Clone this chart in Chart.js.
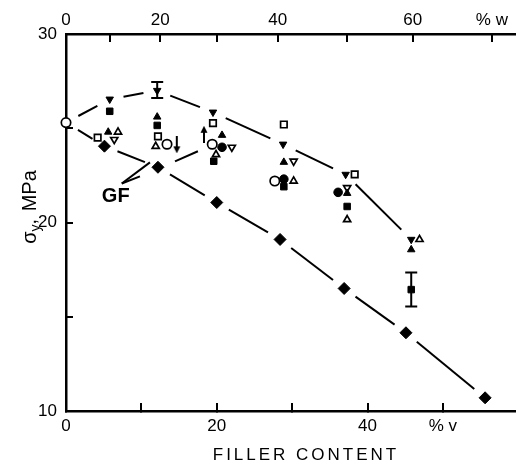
<!DOCTYPE html>
<html>
<head>
<meta charset="utf-8">
<script src="https://cdn.jsdelivr.net/npm/chart.js@4"></script>
<style>
  html, body { margin: 0; padding: 0; background: #fff; }
  #wrap { width: 516px; height: 466px; position: relative; }
</style>
</head>
<body>
<div id="wrap"><canvas id="yieldChart"></canvas></div>
<script>
// bottom axis: filler content, % by volume
const volTicks = [0, 10, 20, 30, 40, 50];
const volLabels = ['0', '', '20', '', '40', '% v'];
// top axis: % by weight, placed at the matching volume fractions
const wtTickPos = [0, 5.8, 12.5, 20.0, 28.1, 37.3, 46.0, 56.5];
const wtLabels = ['0', '', '20', '', '40', '', '60', '% w'];
// yield stress ticks, MPa
const stressTicks = [10, 15, 20, 25, 30];
const stressLabels = ['10', '', '20', '', '30'];

// unfilled matrix
const matrixX = [0];
const matrixY = [25.3];

// filled diamonds (lower dashed curve)
const diamondX = [5.1, 12.2, 20.0, 28.4, 36.9, 45.1, 55.6];
const diamondY = [24.05, 22.93, 21.06, 19.1, 16.5, 14.15, 10.7];

// filled down-triangles (upper dashed curve)
const dnTriX = [5.8, 12.1, 19.5, 28.8, 37.1, 45.8];
const dnTriY = [26.54, 27.0, 25.85, 24.15, 22.55, 19.1];

// filled squares
const sqX = [5.8, 12.1, 19.6, 28.9, 37.3, 45.8];
const sqY = [25.9, 25.15, 23.25, 21.9, 20.85, 16.44];

// filled up-triangles
const upTriX = [5.6, 12.1, 20.7, 28.9, 37.3, 45.8];
const upTriY = [24.8, 25.6, 24.63, 23.2, 21.55, 18.56];

// open up-triangles
const openUpX = [6.9, 11.9, 19.9, 30.2, 37.3, 46.9];
const openUpY = [24.8, 24.04, 23.6, 22.2, 20.15, 19.1];

// open down-triangles
const openDnX = [6.4, 22.0, 30.2, 37.3];
const openDnY = [24.4, 23.99, 23.25, 21.85];

// open squares
const openSqX = [4.2, 12.2, 19.5, 28.9, 38.3];
const openSqY = [24.5, 24.57, 25.27, 25.2, 22.55];

// filled circles
const dotX = [20.7, 28.9, 36.1];
const dotY = [23.99, 22.3, 21.6];

// open circles (GF)
const ringX = [13.4, 19.4, 27.7];
const ringY = [24.15, 24.15, 22.2];

// arrows next to the GF points
const arrowX = [14.7, 18.3];
const arrowY = [24.12, 24.68];
const arrowDir = ['down', 'up'];

// scatter bars
const errX = [12.1, 45.8];
const errLow = [26.6, 15.55];
const errHigh = [27.45, 17.35];

const FONT = '"Liberation Sans", Arial, Helvetica, sans-serif';
const BLACK = '#000';
const GAP = 14;

function pts(xs, ys) {
  return xs.map((x, i) => ({ x: x, y: ys[i] }));
}

function marker(xs, ys, style, filled, radius, rotation) {
  return {
    data: pts(xs, ys),
    pointStyle: style,
    pointRadius: radius,
    pointRotation: rotation || 0,
    pointBackgroundColor: filled ? BLACK : '#fff',
    pointBorderColor: BLACK,
    pointBorderWidth: filled ? 1 : 1.7,
    showLine: false,
    clip: false,
    order: 0
  };
}

// dashes sit in the middle of each interval, leaving a gap near the markers
function segLen(ctx) {
  return Math.hypot(ctx.p1.x - ctx.p0.x, ctx.p1.y - ctx.p0.y);
}
function trend(xs, ys) {
  return {
    data: pts(xs, ys),
    showLine: true,
    pointRadius: 0,
    borderColor: BLACK,
    borderWidth: 2,
    clip: false,
    order: 10,
    segment: {
      borderDash: ctx => {
        const L = segLen(ctx);
        const g = Math.min(GAP, L / 3);
        return [L - 2 * g, 2 * g];
      },
      borderDashOffset: ctx => {
        const L = segLen(ctx);
        return L - Math.min(GAP, L / 3);
      }
    }
  };
}

function arrowImage(up) {
  const c = document.createElement('canvas');
  c.width = 8;
  c.height = 17;
  const g = c.getContext('2d');
  g.strokeStyle = BLACK;
  g.fillStyle = BLACK;
  g.lineWidth = 2;
  g.beginPath();
  g.moveTo(4, up ? 5 : 0);
  g.lineTo(4, up ? 17 : 12);
  g.stroke();
  g.beginPath();
  if (up) {
    g.moveTo(4, 0); g.lineTo(0.5, 7); g.lineTo(7.5, 7);
  } else {
    g.moveTo(4, 17); g.lineTo(0.5, 10); g.lineTo(7.5, 10);
  }
  g.closePath();
  g.fill();
  return c;
}

const errorBars = {
  id: 'errorBars',
  afterDatasetsDraw(chart) {
    const { ctx, scales: { x, y } } = chart;
    ctx.save();
    ctx.strokeStyle = BLACK;
    ctx.lineWidth = 2;
    errX.forEach((v, i) => {
      const px = x.getPixelForValue(v);
      const top = y.getPixelForValue(errHigh[i]);
      const bot = y.getPixelForValue(errLow[i]);
      ctx.beginPath();
      ctx.moveTo(px, top); ctx.lineTo(px, bot);
      ctx.moveTo(px - 6, top); ctx.lineTo(px + 6, top);
      ctx.moveTo(px - 6, bot); ctx.lineTo(px + 6, bot);
      ctx.stroke();
    });
    ctx.restore();
  }
};

// GF label with its leader lines, and the two axis titles
const gfText = { x: 6.6, y: 21.4 };
const gfLeaders = [
  [[7.4, 22.07], [11.14, 23.19]],
  [[7.4, 22.07], [9.81, 22.45]],
  [[14.46, 23.24], [17.5, 23.78]]
];

const labels = {
  id: 'labels',
  afterDraw(chart) {
    const { ctx, chartArea, scales: { x, y } } = chart;
    ctx.save();
    ctx.fillStyle = BLACK;
    ctx.strokeStyle = BLACK;

    ctx.lineWidth = 2;
    gfLeaders.forEach(([a, b]) => {
      ctx.beginPath();
      ctx.moveTo(x.getPixelForValue(a[0]), y.getPixelForValue(a[1]));
      ctx.lineTo(x.getPixelForValue(b[0]), y.getPixelForValue(b[1]));
      ctx.stroke();
    });
    ctx.font = 'bold 20px ' + FONT;
    ctx.textAlign = 'center';
    ctx.textBaseline = 'middle';
    ctx.fillText('GF', x.getPixelForValue(gfText.x), y.getPixelForValue(gfText.y));

    ctx.font = '17px ' + FONT;
    ctx.letterSpacing = '3px';
    ctx.fillText('FILLER CONTENT', (chartArea.left + chartArea.right) / 2 + 15, 455);
    ctx.letterSpacing = '0px';

    // σ with subscript y, then ", MPa", rotated up the left side
    const big = '20px ' + FONT;
    const small = '14px ' + FONT;
    ctx.font = big;
    const w1 = ctx.measureText('σ').width;
    const w3 = ctx.measureText(',').width;
    const w4 = ctx.measureText(' MPa').width;
    ctx.font = small;
    const w2 = ctx.measureText('y').width;
    const total = w1 + w2 + w3 + w4;
    ctx.translate(30, 208);
    ctx.rotate(-Math.PI / 2);
    ctx.textAlign = 'left';
    ctx.textBaseline = 'alphabetic';
    let cx = -total / 2;
    ctx.font = big;
    ctx.fillText('σ', cx, 6);
    cx += w1;
    ctx.font = small;
    ctx.fillText('y', cx, 10);
    cx += w2;
    ctx.font = big;
    ctx.fillText(',', cx, 6);
    cx += w3;
    ctx.fillText(' MPa', cx + 2, 6);
    ctx.restore();
  }
};

const tickFont = { family: FONT, size: 17 };
const axisGrid = { drawOnChartArea: false, color: BLACK, tickColor: BLACK, lineWidth: 2, tickLength: -8 };
const axisBorder = { color: BLACK, width: 2.5 };

// keep the plot running to the right edge of the canvas
function noSidePadding(s) {
  s.paddingLeft = 0;
  s.paddingRight = 0;
}

const datasets = [
  trend(matrixX.concat(dnTriX), matrixY.concat(dnTriY)),
  trend(matrixX.concat(diamondX), matrixY.concat(diamondY)),
  marker(diamondX, diamondY, 'rectRot', true, 6),
  marker(dnTriX, dnTriY, 'triangle', true, 4.3, 180),
  marker(sqX, sqY, 'rect', true, 4.6),
  marker(upTriX, upTriY, 'triangle', true, 4.3),
  marker(openUpX, openUpY, 'triangle', false, 4.1),
  marker(openDnX, openDnY, 'triangle', false, 4.1, 180),
  marker(openSqX, openSqY, 'rect', false, 4.6),
  marker(dotX, dotY, 'circle', true, 4.3),
  marker(ringX, ringY, 'circle', false, 4.7),
  marker(matrixX, matrixY, 'circle', false, 4.7),
  {
    data: pts(arrowX, arrowY),
    pointStyle: arrowDir.map(d => arrowImage(d === 'up')),
    pointRadius: 8,
    showLine: false,
    clip: false,
    order: 0
  }
];

new Chart(document.getElementById('yieldChart'), {
  type: 'scatter',
  data: { datasets: datasets },
  options: {
    responsive: true,
    maintainAspectRatio: false,
    animation: false,
    layout: { padding: 0, autoPadding: false },
    plugins: {
      legend: { display: false },
      tooltip: { enabled: false }
    },
    scales: {
      x: {
        type: 'linear',
        position: 'bottom',
        min: 0,
        max: 59.7,
        afterBuildTicks: s => { s.ticks = volTicks.map(value => ({ value })); },
        afterFit: s => { s.height = 55; noSidePadding(s); },
        grid: axisGrid,
        border: axisBorder,
        ticks: { color: BLACK, font: tickFont, padding: 13, maxRotation: 0, autoSkip: false,
                 callback: (v, i) => volLabels[i] }
      },
      xTop: {
        type: 'linear',
        position: 'top',
        min: 0,
        max: 59.7,
        afterBuildTicks: s => { s.ticks = wtTickPos.map(value => ({ value })); },
        afterFit: s => { s.height = 34; noSidePadding(s); },
        grid: axisGrid,
        border: axisBorder,
        ticks: { color: BLACK, font: tickFont, padding: 11, maxRotation: 0, autoSkip: false,
                 callback: (v, i) => wtLabels[i] }
      },
      y: {
        type: 'linear',
        min: 10,
        max: 30,
        afterBuildTicks: s => { s.ticks = stressTicks.map(value => ({ value })); },
        afterFit: s => { s.width = 66; s.paddingTop = 0; s.paddingBottom = 0; },
        grid: Object.assign({}, axisGrid, { tickLength: -7 }),
        border: axisBorder,
        ticks: { color: BLACK, font: tickFont, padding: 16, autoSkip: false,
                 callback: (v, i) => stressLabels[i] }
      }
    }
  },
  plugins: [errorBars, labels]
});
</script>
</body>
</html>
